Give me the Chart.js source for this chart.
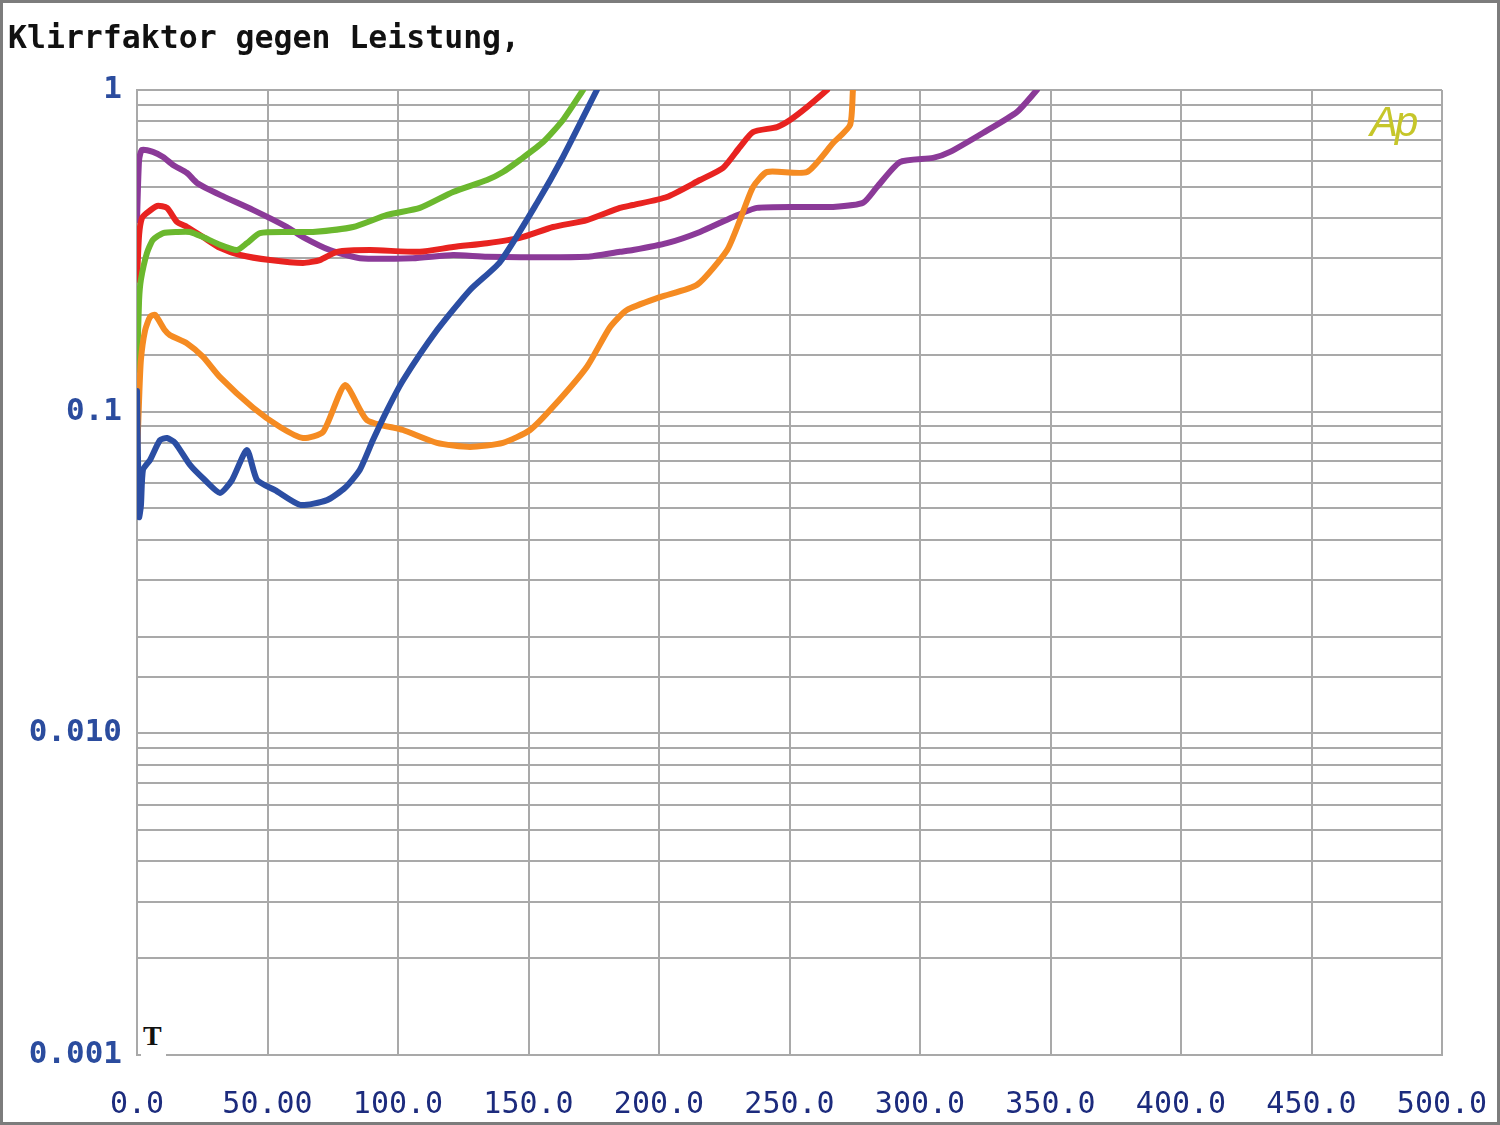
<!DOCTYPE html>
<html>
<head>
<meta charset="utf-8">
<script src="https://cdn.jsdelivr.net/npm/chart.js@4/dist/chart.umd.min.js"></script>
<style>
  html, body { margin: 0; padding: 0; background: #fff; }
  #wrap { position: relative; width: 1500px; height: 1125px; }
  #frame { position: absolute; left: 0; top: 0; width: 1500px; height: 1125px; box-sizing: border-box; border: 3px solid #7c7c7c; pointer-events: none; }
  .txt { position: absolute; white-space: pre; }
  #title { left: 8px; top: 19px; font: bold 31.5px "DejaVu Sans Mono", monospace; color: #111; }
  #tmark { left: 141px; top: 1020px; font: bold 28px "Liberation Serif", serif; color: #111; background: #fff; padding: 0 4px 6px 2px; }
  #ap { left: 1370px; top: 98px; font: italic 42px "Liberation Sans", sans-serif; color: #c6c62a; font-weight: 200; letter-spacing: -3px; }
</style>
</head>
<body>
<div id="wrap">
  <canvas id="myChart" width="1500" height="1125"></canvas>
  <div class="txt" id="title">Klirrfaktor gegen Leistung,</div>
  <div class="txt" id="tmark">T</div>
  <div class="txt" id="ap">Ap</div>
  <div id="frame"></div>
</div>
<script>
// power in W (x) and distortion in % (y)
var blueX = [0, 0.8, 1.5, 2.3, 5, 8.8, 11.5, 14.6, 20.3, 26, 31.8, 36.4, 42.1, 46, 52.9, 62.5, 72.8, 79.7, 85.4, 90.4, 95.8, 101.9, 114.9, 127.6, 139.1, 153.3, 163.2, 176.2];
var blueY = [0.116, 0.047, 0.051, 0.066, 0.0708, 0.0816, 0.0828, 0.080, 0.0683, 0.0613, 0.0559, 0.0613, 0.076, 0.0613, 0.057, 0.0513, 0.0531, 0.058, 0.066, 0.0816, 0.101, 0.125, 0.179, 0.239, 0.292, 0.446, 0.619, 1.0];

var orangeX = [0, 0.8, 1.5, 3.1, 5, 6.9, 10.7, 12.6, 19.2, 25.3, 31.8, 44.4, 54.8, 63.6, 71.3, 79.7, 88.1, 101.9, 114.9, 127.6, 140.2, 150.6, 159.4, 172.4, 181.2, 187.7, 200.4, 214.6, 226.1, 231, 236, 241.4, 256.7, 266.7, 273.2, 274.3];
var orangeY = [0.0708, 0.109, 0.145, 0.179, 0.197, 0.200, 0.179, 0.173, 0.163, 0.148, 0.128, 0.103, 0.0896, 0.0828, 0.0865, 0.121, 0.0942, 0.0877, 0.080, 0.0777, 0.080, 0.0877, 0.1035, 0.138, 0.183, 0.207, 0.227, 0.248, 0.318, 0.394, 0.499, 0.556, 0.556, 0.684, 0.778, 1.0];

var redX = [0, 0.8, 1.9, 3.8, 7.7, 11.5, 15.3, 19.2, 25.3, 31.8, 39.5, 51, 63.6, 70.1, 76.6, 89.3, 108.4, 121.1, 134.1, 146.7, 159.4, 172.4, 185, 190, 203, 215.7, 224.5, 231, 236, 245.2, 250.2, 256.7, 264.4];
var redY = [0.257, 0.354, 0.400, 0.415, 0.436, 0.430, 0.389, 0.375, 0.349, 0.323, 0.307, 0.296, 0.290, 0.296, 0.314, 0.318, 0.314, 0.325, 0.334, 0.347, 0.375, 0.394, 0.430, 0.439, 0.465, 0.525, 0.572, 0.665, 0.740, 0.767, 0.807, 0.885, 1.0];

var greenX = [0, 0.8, 1.5, 3.8, 6.1, 10, 15.3, 20.3, 25.3, 31.8, 38.3, 42.1, 47.1, 57.5, 67.4, 82.8, 95.8, 108.4, 121.1, 134.1, 140.2, 146.7, 155.6, 163.2, 170.9];
var greenY = [0.135, 0.222, 0.257, 0.311, 0.342, 0.359, 0.362, 0.362, 0.349, 0.330, 0.318, 0.334, 0.359, 0.362, 0.362, 0.375, 0.409, 0.430, 0.482, 0.525, 0.556, 0.606, 0.689, 0.807, 1.0];

var purpleX = [0, 0.8, 1.9, 6.1, 10, 13.8, 19.2, 23, 31.8, 44.4, 57.5, 63.6, 73.9, 85.4, 105.7, 121.1, 134.1, 172.4, 185, 190, 203, 215.7, 228.4, 237.5, 254, 266.7, 278.2, 283.5, 292.3, 305, 311.5, 324.1, 337.2, 344.8];
var purpleY = [0.394, 0.606, 0.651, 0.642, 0.619, 0.585, 0.552, 0.514, 0.472, 0.424, 0.375, 0.349, 0.318, 0.300, 0.300, 0.307, 0.303, 0.303, 0.314, 0.318, 0.334, 0.362, 0.403, 0.430, 0.433, 0.433, 0.446, 0.499, 0.597, 0.615, 0.642, 0.735, 0.855, 1.0];

var xTicks = [0, 50, 100, 150, 200, 250, 300, 350, 400, 450, 500];
var xTickLabels = ['0.0', '50.00', '100.0', '150.0', '200.0', '250.0', '300.0', '350.0', '400.0', '450.0', '500.0'];
var yTickValues = [1, 0.1, 0.01, 0.001];
var yTickLabels = ['1', '0.1', '0.010', '0.001'];

function pts(xs, ys) {
  var out = [];
  for (var i = 0; i < xs.length; i++) out.push({x: xs[i], y: ys[i]});
  return out;
}

function line(name, xs, ys, color) {
  return {
    label: name,
    data: pts(xs, ys),
    borderColor: color,
    borderWidth: 6,
    pointRadius: 0,
    tension: 0.2,
    borderCapStyle: 'round',
    borderJoinStyle: 'round',
    fill: false
  };
}

var ctx = document.getElementById('myChart');
var myChart = new Chart(ctx, {
  type: 'line',
  data: {
    datasets: [
      line('blue', blueX, blueY, '#2b4ea3'),
      line('orange', orangeX, orangeY, '#f58b22'),
      line('green', greenX, greenY, '#6bb82e'),
      line('red', redX, redY, '#e82320'),
      line('purple', purpleX, purpleY, '#8b3a98')
    ]
  },
  options: {
    responsive: false,
    animation: false,
    layout: { padding: { left: 0, right: 58, top: 90, bottom: 0 } },
    plugins: { legend: { display: false }, tooltip: { enabled: false } },
    scales: {
      x: {
        type: 'linear',
        min: 0,
        max: 500,
        afterFit: function(scale) {
          scale.height = 70;
          scale.paddingLeft = 0;
          scale.paddingRight = 0;
        },
        afterBuildTicks: function(scale) {
          scale.ticks = xTicks.map(function(v) { return {value: v}; });
        },
        grid: { color: '#a9a9a9', lineWidth: 2, drawTicks: false },
        border: { color: '#a9a9a9', width: 2 },
        ticks: {
          autoSkip: false,
          maxRotation: 0,
          padding: 32,
          color: '#1c2b7d',
          font: { family: 'DejaVu Sans Mono', size: 30 },
          callback: function(v) {
            var i = xTicks.indexOf(v);
            return i >= 0 ? xTickLabels[i] : '';
          }
        }
      },
      y: {
        type: 'logarithmic',
        min: 0.001,
        max: 1,
        afterFit: function(scale) {
          scale.width = 137;
          scale.paddingTop = 0;
          scale.paddingBottom = 0;
        },
        grid: { color: '#a9a9a9', lineWidth: 2, drawTicks: false },
        border: { color: '#a9a9a9', width: 2 },
        ticks: {
          autoSkip: false,
          padding: 15,
          color: '#2b4c9e',
          font: { family: 'DejaVu Sans Mono', size: 31, weight: 'bold' },
          callback: function(v) {
            for (var i = 0; i < yTickValues.length; i++) {
              if (Math.abs(v - yTickValues[i]) < yTickValues[i] * 1e-6) return yTickLabels[i];
            }
            return '';
          }
        }
      }
    }
  }
});
</script>
</body>
</html>
